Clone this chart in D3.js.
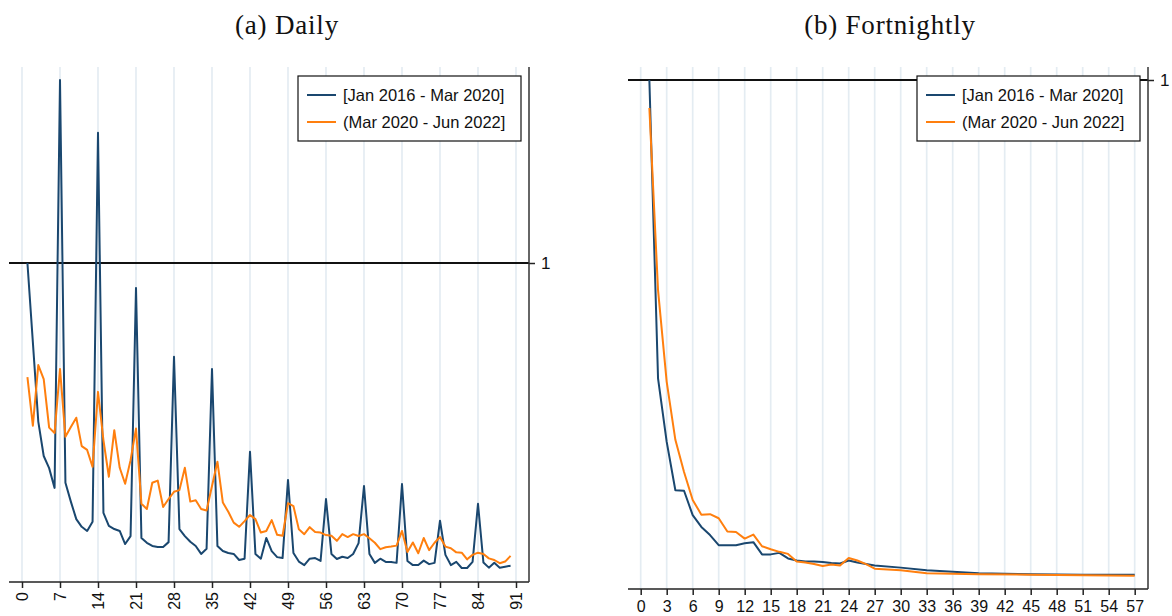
<!DOCTYPE html>
<html>
<head>
<meta charset="utf-8">
<script src="https://cdn.jsdelivr.net/npm/d3@7"></script>
<style>
html,body{margin:0;padding:0;background:#fff;}
svg{display:block;}
</style>
</head>
<body>
<svg id="chart" width="1172" height="616"></svg>
<script>
// ---- Data ----
const seriesNames = ["[Jan 2016 - Mar 2020]", "(Mar 2020 - Jun 2022]"];
const panelTitles = ["(a) Daily", "(b) Fortnightly"];

const dailyTicks = [0,7,14,21,28,35,42,49,56,63,70,77,84,91];
const fortnightTicks = [0,3,6,9,12,15,18,21,24,27,30,33,36,39,42,45,48,51,54,57];

const dailyDays = d3.range(1, 91);
const dailyPre = [1.000,0.752,0.503,0.395,0.357,0.295,1.574,0.311,0.252,0.197,
  0.173,0.160,0.189,1.408,0.217,0.176,0.166,0.160,0.119,0.144,
  0.922,0.138,0.123,0.113,0.110,0.110,0.125,0.706,0.166,0.144,
  0.126,0.113,0.088,0.104,0.668,0.113,0.097,0.091,0.088,0.069,
  0.073,0.408,0.088,0.073,0.138,0.097,0.078,0.075,0.320,0.091,
  0.064,0.053,0.073,0.075,0.066,0.260,0.088,0.072,0.079,0.075,
  0.088,0.122,0.301,0.088,0.060,0.073,0.063,0.063,0.060,0.307,
  0.066,0.053,0.053,0.067,0.056,0.060,0.192,0.085,0.053,0.063,
  0.044,0.044,0.063,0.245,0.061,0.045,0.060,0.045,0.048,0.051];
const dailyPost = [0.642,0.490,0.680,0.636,0.484,0.467,0.668,0.455,0.486,0.515,
  0.426,0.414,0.361,0.596,0.445,0.330,0.476,0.358,0.308,0.382,
  0.481,0.245,0.229,0.311,0.318,0.235,0.260,0.283,0.288,0.358,
  0.252,0.256,0.229,0.224,0.301,0.377,0.249,0.220,0.186,0.173,
  0.191,0.210,0.197,0.155,0.160,0.194,0.148,0.145,0.247,0.238,
  0.165,0.150,0.172,0.157,0.155,0.147,0.145,0.129,0.150,0.141,
  0.150,0.144,0.150,0.137,0.123,0.103,0.109,0.111,0.114,0.160,
  0.094,0.124,0.090,0.138,0.100,0.123,0.141,0.111,0.106,0.093,
  0.092,0.071,0.085,0.092,0.088,0.074,0.069,0.059,0.064,0.082];

const fortLags = [1,2,3,4,5,6,7,8,9,10,11,12,13,14,15,16,17,18,19,20,21,22,23,24,25,26,27,30,33,36,39,45,51,57];
const fortPre = [1.000,0.414,0.289,0.194,0.193,0.145,0.122,0.106,0.086,0.086,
  0.086,0.090,0.092,0.068,0.068,0.071,0.060,0.056,0.054,0.054,
  0.053,0.051,0.050,0.056,0.052,0.049,0.046,0.042,0.037,0.034,
  0.031,0.029,0.028,0.028];
const fortPost = [0.945,0.587,0.407,0.293,0.230,0.175,0.146,0.147,0.139,0.113,
  0.112,0.099,0.107,0.084,0.078,0.073,0.069,0.054,0.052,0.049,
  0.045,0.048,0.046,0.061,0.056,0.049,0.040,0.037,0.031,0.030,
  0.029,0.028,0.027,0.026];

const colors = ["#1a476f", "#ff7f0e"];

// ---- Drawing ----
const svg = d3.select("#chart");

function drawPanel(cfg) {
  const g = svg.append("g");
  const x = d3.scaleLinear().domain(cfg.xDomain).range(cfg.xRange);
  const y = d3.scaleLinear().domain([0, 1]).range(cfg.yRange);

  // title
  g.append("text")
    .attr("x", cfg.titleX).attr("y", 34)
    .attr("text-anchor", "middle")
    .style("font-family", "'Liberation Serif', 'Times New Roman', serif")
    .style("font-size", "27px")
    .style("letter-spacing", "0.8px")
    .attr("fill", "#111")
    .text(cfg.title);

  // gridlines
  g.append("g").selectAll("line").data(cfg.ticks).join("line")
    .attr("x1", d => x(d)).attr("x2", d => x(d))
    .attr("y1", cfg.plotTop).attr("y2", cfg.axisY)
    .attr("stroke", "#e4ecf2").attr("stroke-width", 1.7);

  // reference line at 1
  g.append("line")
    .attr("x1", cfg.left).attr("x2", cfg.right)
    .attr("y1", y(1)).attr("y2", y(1))
    .attr("stroke", "#111").attr("stroke-width", 2);

  // series lines
  const line = d3.line().x(d => x(d[0])).y(d => y(d[1]));
  cfg.series.forEach((vals, i) => {
    g.append("path")
      .datum(cfg.xs.map((xv, k) => [xv, vals[k]]))
      .attr("d", line)
      .attr("fill", "none")
      .attr("stroke", colors[i])
      .attr("stroke-width", 2)
      .attr("stroke-linejoin", "round");
  });

  // bottom axis
  const xAxis = d3.axisBottom(x).tickValues(cfg.ticks).tickSize(6).tickSizeOuter(0).tickFormat(d3.format("d"));
  const ax = g.append("g").attr("transform", `translate(0,${cfg.axisY})`).call(xAxis);
  ax.select(".domain").remove();
  ax.append("line").attr("x1", cfg.left).attr("x2", cfg.right).attr("y1", 0).attr("y2", 0)
    .attr("stroke", "#222").attr("stroke-width", 1.5);
  ax.selectAll(".tick line").attr("stroke", "#222").attr("stroke-width", 1.5);
  ax.selectAll(".tick text")
    .style("font-family", "'Liberation Sans', Arial, sans-serif")
    .style("font-size", "16px")
    .attr("fill", "#111");
  if (cfg.rotate) {
    ax.selectAll(".tick text")
      .attr("transform", "rotate(-90)")
      .attr("text-anchor", "end")
      .attr("x", -10).attr("y", 0).attr("dy", "0.35em");
  } else {
    ax.selectAll(".tick text").attr("y", 9).attr("dy", "0.85em");
  }

  // right axis with single tick at 1
  const yAxis = d3.axisRight(y).tickValues([1]).tickSize(6).tickSizeOuter(0).tickFormat(d3.format("d"));
  const ay = g.append("g").attr("transform", `translate(${cfg.right},0)`).call(yAxis);
  ay.select(".domain").remove();
  ay.append("line").attr("x1", 0).attr("x2", 0).attr("y1", cfg.plotTop).attr("y2", cfg.axisY)
    .attr("stroke", "#333").attr("stroke-width", 1.5);
  ay.selectAll(".tick line").attr("stroke", "#222").attr("stroke-width", 1.5);
  ay.selectAll(".tick text")
    .attr("x", 12)
    .style("font-family", "'Liberation Sans', Arial, sans-serif")
    .style("font-size", "17px")
    .attr("fill", "#111");

  // legend
  const lg = g.append("g").attr("transform", `translate(${cfg.legendX},76)`);
  lg.append("rect").attr("x", 0).attr("y", 0).attr("width", 223).attr("height", 65)
    .attr("fill", "#fff").attr("stroke", "#111").attr("stroke-width", 1.2);
  seriesNames.forEach((name, i) => {
    const yy = 19 + i * 27;
    lg.append("line").attr("x1", 9).attr("x2", 38).attr("y1", yy).attr("y2", yy)
      .attr("stroke", colors[i]).attr("stroke-width", 2);
    lg.append("text").attr("x", 45).attr("y", yy).attr("dy", "0.35em")
      .style("font-family", "'Liberation Sans', Arial, sans-serif")
      .style("font-size", "16.5px").attr("fill", "#111")
      .text(name);
  });
}

drawPanel({
  title: panelTitles[0], titleX: 287,
  xDomain: [0, 91], xRange: [22, 516],
  yRange: [582, 263],
  left: 9, right: 529, axisY: 582, plotTop: 67,
  ticks: dailyTicks, rotate: true,
  xs: dailyDays, series: [dailyPre, dailyPost],
  legendX: 298
});

drawPanel({
  title: panelTitles[1], titleX: 890,
  xDomain: [0, 57], xRange: [640.7, 1134.7],
  yRange: [589, 80],
  left: 628, right: 1148, axisY: 589, plotTop: 67,
  ticks: fortnightTicks, rotate: false,
  xs: fortLags, series: [fortPre, fortPost],
  legendX: 917
});
</script>
</body>
</html>
